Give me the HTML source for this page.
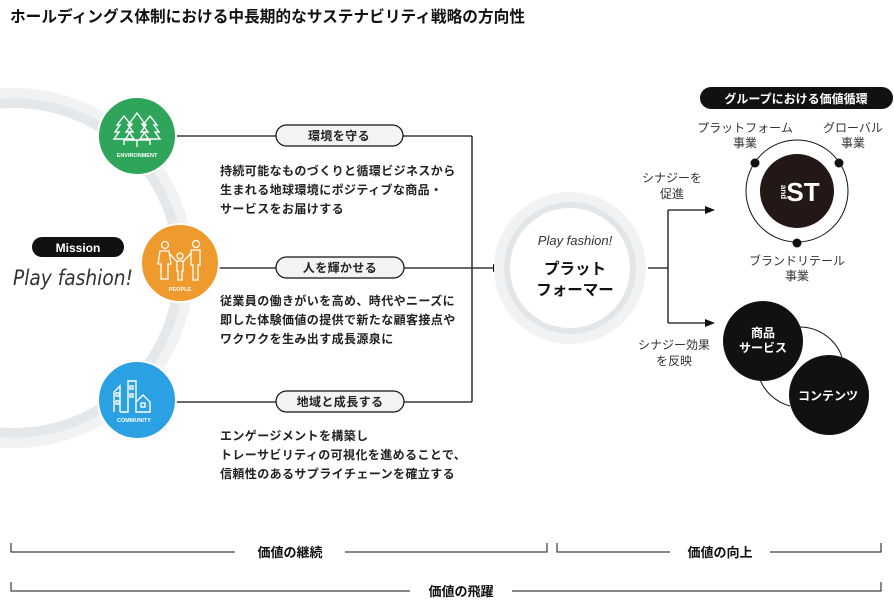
<!DOCTYPE html>
<html><head><meta charset="utf-8"><style>
html,body{margin:0;padding:0;background:#fff;}
svg{display:block;font-family:"Liberation Sans","Noto Sans CJK JP",sans-serif;}
.b{font-weight:bold;fill:#111;}
.t{font-size:12px;font-weight:bold;fill:#222;letter-spacing:0.4px;}
.s{font-size:12px;fill:#333;}
</style></head><body>
<svg width="894" height="609" viewBox="0 0 894 609" xmlns="http://www.w3.org/2000/svg">
<text x="10" y="22" class="b" font-size="16" textLength="515" lengthAdjust="spacingAndGlyphs">ホールディングス体制における中長期的なサステナビリティ戦略の方向性</text>
<!-- big arc -->
<circle cx="14" cy="268" r="175" fill="none" stroke="#f1f2f3" stroke-width="10"/>
<circle cx="14" cy="268" r="165" fill="none" stroke="#e5e8ea" stroke-width="10"/>
<!-- lines -->
<g stroke="#111" stroke-width="1.3" fill="none">
<line x1="175" y1="136" x2="472" y2="136"/>
<line x1="472" y1="136" x2="472" y2="402"/>
<line x1="175" y1="402" x2="472" y2="402"/>
<line x1="218" y1="268" x2="496" y2="268"/>
<line x1="648" y1="268" x2="668" y2="268"/>
<line x1="668" y1="210" x2="668" y2="323"/>
<line x1="668" y1="210" x2="708" y2="210"/>
<line x1="668" y1="323" x2="708" y2="323"/>
</g>
<polygon points="503,268 493,264 493,272" fill="#111"/>
<polygon points="715,210 705,206 705,214" fill="#111"/>
<polygon points="715,323 705,319 705,327" fill="#111"/>
<!-- icon circles -->
<circle cx="137" cy="136" r="39" fill="#2ea55a" stroke="#fff" stroke-width="2"/>
<g stroke="#fff" stroke-width="1.4" fill="none">
<path d="M124,116 l-7,9 h3 l-5,7 h4 l-5,7 h20 l-5,-7 h4 l-5,-7 h3 z M124,139 v6"/>
<path d="M137,113 l-8,11 h3 l-6,8 h4 l-5,8 h24 l-5,-8 h4 l-6,-8 h3 z M137,140 v7"/>
<path d="M150,116 l-7,9 h3 l-5,7 h4 l-5,7 h20 l-5,-7 h4 l-5,-7 h3 z M150,139 v6"/>
</g>
<text x="137" y="157" fill="#fff" font-size="5.5" font-weight="bold" text-anchor="middle">ENVIRONMENT</text>
<circle cx="180" cy="263" r="39" fill="#ef9a2d" stroke="#fff" stroke-width="2"/>
<g stroke="#fff" stroke-width="1.3" fill="none">
<circle cx="165" cy="245" r="3.5"/><path d="M160,251 h9 l2,13 h-3 v15 h-7 v-15 h-3 z"/>
<circle cx="196" cy="244" r="3.5"/><path d="M191,250 h9 v15 h-2 v15 h-5 v-15 h-2 z"/>
<circle cx="180" cy="256" r="3"/><path d="M177,261 h6 v10 h-1 v9 h-4 v-9 h-1 z M169,253 l8,9 M191,253 l-8,9"/>
</g>
<text x="180" y="291" fill="#fff" font-size="5.5" font-weight="bold" text-anchor="middle">PEOPLE</text>
<circle cx="137" cy="400" r="39" fill="#2ba0e3" stroke="#fff" stroke-width="2"/>
<g stroke="#fff" stroke-width="1.4" fill="none">
<path d="M114,412 v-20 l6,-6 v26 M120,412 h8 v-31 h8 v31 M136,412 v-10 l7,-7 l7,7 v10 z"/>
<rect x="116" y="393" width="3" height="3"/><rect x="116" y="401" width="3" height="3"/>
<rect x="130" y="386" width="3" height="3"/><rect x="130" y="394" width="3" height="3"/>
<rect x="141" y="403" width="4" height="4"/>
</g>
<text x="134" y="422" fill="#fff" font-size="5.5" font-weight="bold" text-anchor="middle">COMMUNITY</text>
<!-- mission -->
<rect x="32" y="237" width="92" height="20" rx="10" fill="#111"/>
<text x="78" y="252" fill="#fff" font-size="12" font-weight="bold" text-anchor="middle">Mission</text>
<text x="13" y="285" font-size="21" font-style="italic" fill="#333" font-family="DejaVu Sans, sans-serif" font-weight="normal" textLength="120" lengthAdjust="spacingAndGlyphs" transform="translate(0,0)">Play fashion!</text>
<!-- pills -->
<g fill="#f3f3f3" stroke="#111" stroke-width="1.2">
<rect x="276" y="125" width="127" height="21" rx="10.5"/>
<rect x="276" y="257" width="128" height="21" rx="10.5"/>
<rect x="276" y="391" width="128" height="21" rx="10.5"/>
</g>
<text x="339" y="140" class="t" text-anchor="middle">環境を守る</text>
<text x="340" y="272" class="t" text-anchor="middle">人を輝かせる</text>
<text x="340" y="406" class="t" text-anchor="middle">地域と成長する</text>
<text class="t"><tspan x="220" y="175">持続可能なものづくりと循環ビジネスから</tspan><tspan x="220" y="194">生まれる地球環境にポジティブな商品・</tspan><tspan x="220" y="213">サービスをお届けする</tspan></text>
<text class="t"><tspan x="220" y="305">従業員の働きがいを高め、時代やニーズに</tspan><tspan x="220" y="324">即した体験価値の提供で新たな顧客接点や</tspan><tspan x="220" y="343">ワクワクを生み出す成長源泉に</tspan></text>
<text class="t"><tspan x="220" y="440">エンゲージメントを構築し</tspan><tspan x="220" y="459">トレーサビリティの可視化を進めることで、</tspan><tspan x="220" y="478">信頼性のあるサプライチェーンを確立する</tspan></text>
<!-- center -->
<circle cx="570" cy="268" r="76" fill="#f0f2f3"/>
<circle cx="570" cy="268" r="66" fill="#e3e6e8"/>
<circle cx="570" cy="268" r="60" fill="#fff"/>
<text x="575" y="245" font-size="13" font-style="italic" fill="#333" text-anchor="middle">Play fashion!</text>
<text x="575" y="274" class="b" font-size="15.5" text-anchor="middle">プラット</text>
<text x="575" y="295" class="b" font-size="15.5" text-anchor="middle">フォーマー</text>
<text class="s" text-anchor="middle"><tspan x="672" y="182">シナジーを</tspan><tspan x="672" y="198">促進</tspan></text>
<text class="s" text-anchor="middle"><tspan x="674" y="349">シナジー効果</tspan><tspan x="674" y="365">を反映</tspan></text>
<!-- right group -->
<rect x="700" y="87" width="193" height="22" rx="11" fill="#111"/>
<text x="796" y="103" fill="#fff" font-size="12" font-weight="bold" text-anchor="middle">グループにおける価値循環</text>
<text class="s" text-anchor="middle"><tspan x="745" y="132">プラットフォーム</tspan><tspan x="745" y="147">事業</tspan></text>
<text class="s" text-anchor="middle"><tspan x="853" y="132">グローバル</tspan><tspan x="853" y="147">事業</tspan></text>
<text class="s" text-anchor="middle"><tspan x="797" y="265">ブランドリテール</tspan><tspan x="797" y="280">事業</tspan></text>
<circle cx="797" cy="191" r="51" fill="none" stroke="#111" stroke-width="1"/>
<circle cx="797" cy="191" r="37" fill="#231815"/>
<text x="803" y="201" fill="#fff" font-size="26" font-weight="bold" text-anchor="middle">ST</text>
<text transform="translate(781,192) rotate(90)" fill="#fff" font-size="8" font-weight="bold" text-anchor="middle">and</text>
<circle cx="755" cy="163" r="4.5" fill="#111"/><circle cx="839" cy="163" r="4.5" fill="#111"/><circle cx="797" cy="243" r="4.5" fill="#111"/>
<path d="M798,327 A45,45 0 0 1 842,357" fill="none" stroke="#111" stroke-width="1"/>
<path d="M759,377 A45,45 0 0 0 790,406" fill="none" stroke="#111" stroke-width="1"/>
<circle cx="763" cy="341" r="40" fill="#111"/>
<circle cx="829" cy="395" r="40" fill="#111"/>
<text x="763" y="337" fill="#fff" font-size="12" font-weight="bold" text-anchor="middle">商品</text>
<text x="763" y="352" fill="#fff" font-size="12" font-weight="bold" text-anchor="middle">サービス</text>
<text x="828" y="400" fill="#fff" font-size="12" font-weight="bold" text-anchor="middle">コンテンツ</text>
<!-- footer -->
<g stroke="#111" stroke-width="1" fill="none">
<path d="M11,543 V552 H235 M345,552 H547 V543"/>
<path d="M557,543 V552 H670 M770,552 H881 V543"/>
<path d="M11,582 V591 H410 M512,591 H881 V582"/>
</g>
<text x="290" y="557" class="b" font-size="13" text-anchor="middle">価値の継続</text>
<text x="720" y="557" class="b" font-size="13" text-anchor="middle">価値の向上</text>
<text x="461" y="596" class="b" font-size="13" text-anchor="middle">価値の飛躍</text>
</svg>
</body></html>
